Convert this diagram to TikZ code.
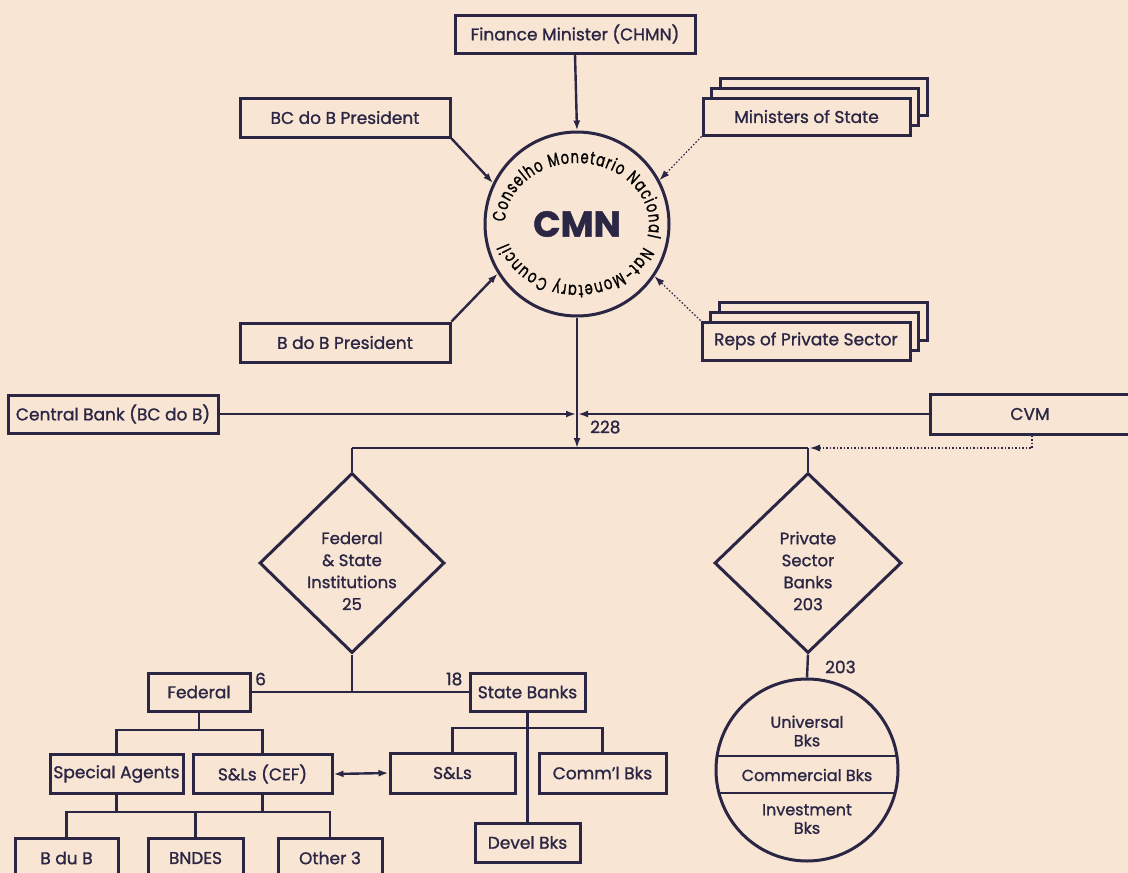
\documentclass[tikz,border=0pt]{standalone}
\usepackage{fontspec}
\setmainfont{Poppins}[FakeBold=1.2]
\newfontfamily\arcfam{Poppins}[FakeBold=1.2, FakeStretch=0.72]
\usetikzlibrary{arrows.meta,shapes.geometric,decorations.text}
\definecolor{bg}{RGB}{249,229,211}
\definecolor{ink}{RGB}{42,38,68}
\newcommand{\bxfont}{\fontsize{17}{19}\selectfont}
\newcommand{\dfont}{\fontsize{16.5}{22}\selectfont}
\newcommand{\cfont}{\fontsize{16}{18.5}\selectfont}
\newcommand{\arcfont}{\arcfam\fontsize{18}{18}\selectfont}
\begin{document}
\begin{tikzpicture}[x=1pt,y=1pt,
  every node/.style={text=ink, font=\bxfont},
  box/.style={draw=ink, line width=3pt, fill=bg, rectangle, inner sep=0pt, align=center},
  back/.style={draw=ink, line width=3pt, fill=bg},
  conn/.style={draw=ink, line width=2.4pt},
  arr/.style={conn, -{Latex[length=10pt,width=7pt]}},
  dblarr/.style={conn, {Latex[length=10pt,width=7pt]}-{Latex[length=10pt,width=7pt]}},
  dotarr/.style={draw=ink, line width=1.2pt, dash pattern=on 1.5pt off 2pt, -{Latex[length=10pt,width=7pt]}},
  dia/.style={draw=ink, line width=3pt, fill=bg, diamond, inner sep=0pt},
  circ/.style={draw=ink, line width=3pt, fill=bg, circle, inner sep=0pt},
  dtext/.style={font=\dfont, align=center},
  ctext/.style={font=\cfont, align=center},
  lbl/.style={anchor=west, inner sep=0pt}]
\fill[bg] (0,0) rectangle (1128,-873);
\useasboundingbox (0,0) rectangle (1128,-873);
\clip (0,0) rectangle (1128,-873);

% top
\node[box, minimum width=240, minimum height=38] (fin) at (575,-34) {Finance Minister (CHMN)};
\node[box, minimum width=210, minimum height=39] (bcp) at (345,-117.5) {BC do B President};
\node[box, minimum width=210, minimum height=39] (bbp) at (345,-342.5) {B do B President};

\draw[back] (720,-78) rectangle (927,-115);
\draw[back] (711.5,-88) rectangle (918.5,-125);
\node[box, minimum width=207, minimum height=37] (mos) at (806.5,-116.5) {Ministers of State};

\draw[back] (719,-302) rectangle (927,-340);
\draw[back] (710.5,-312) rectangle (918.5,-350);
\node[box, minimum width=208, minimum height=38] (rps) at (806,-341) {Reps of Private Sector};

\node[circ, minimum size=184] (cmn) at (577,-224) {};
\node[font=\fontsize{36}{36}\selectfont\bfseries] at (577,-224) {CMN};
\path[decorate, decoration={text along path, text align=fit to path,
  text={|\arcfont|Conselho Monetario Nacional}}]
  (577,-224) ++(178:72 and 61) arc[start angle=178, end angle=-12, x radius=72, y radius=61];
\path[decorate, decoration={text along path, text align=fit to path,
  text={|\arcfont|Nat-Monetary Council}}]
  (577,-224) ++(-22:72 and 61) arc[start angle=-22, end angle=-162, x radius=72, y radius=61];

\draw[arr] (fin.south) -- (cmn.north);
\draw[arr] (bcp.south east) -- (cmn.154);
\draw[arr] (bbp.north east) -- (cmn.212);
\draw[dotarr] (mos.south west) -- (cmn.28);
\draw[dotarr] (rps.north west) -- (cmn.-34);

% middle
\node[box, minimum width=210, minimum height=38] (cb) at (113,-414) {Central Bank (BC do B)};
\node[box, minimum width=200, minimum height=40] (cvm) at (1030,-414) {CVM};
\coordinate (cross) at (577,-414);
\coordinate (jc) at (577,-448);
\coordinate (jl) at (352,-448);
\coordinate (jr) at (808,-448);
\coordinate (cvmc) at (1032,-448);
\draw[arr, shorten >=1pt] (cb.east) -- (cross);
\draw[arr, shorten >=1pt] (cvm.west) -- (cross);
\draw[arr] (cmn.south) -- (jc);
\draw[conn] (jl) -- (jr);
\draw[dotarr, shorten >=2pt] (cvm.south -| cvmc) -- (cvmc) -- (jr);
\node[lbl] at (590,-427) {228};

% diamonds
\node[dia, minimum width=185, minimum height=180] (fsi) at (352,-563) {};
\node[dtext] at (352,-571) {Federal\\\& State\\Institutions\\25};
\node[dia, minimum width=187, minimum height=180] (psb) at (808,-563) {};
\node[dtext] at (808,-571) {Private\\Sector\\Banks\\203};
\draw[conn] (jl) -- (fsi.north);
\draw[conn] (jr) -- (psb.north);

% federal & state
\node[box, minimum width=102, minimum height=38] (fed) at (199,-692) {Federal};
\node[box, minimum width=115, minimum height=38] (stb) at (527.5,-692) {State Banks};
\coordinate (jf) at (352,-692);
\draw[conn] (fed.east) -- (stb.west);
\draw[conn] (fsi.south) -- (jf);
\node[lbl] at (255,-679) {6};
\node[lbl] at (446,-679) {18};

\node[box, minimum width=133, minimum height=39] (spa) at (116.5,-774) {Special Agents};
\node[box, minimum width=139, minimum height=39] (slc) at (262.5,-774) {S\&Ls (CEF)};
\coordinate (fj1) at (199,-730);
\draw[conn] (fed.south) -- (fj1);
\draw[conn] (spa.north) |- (fj1) -| (slc.north);

\node[box, minimum width=103, minimum height=40] (bdb) at (66.5,-858) {B du B};
\node[box, minimum width=95, minimum height=40] (bnd) at (195.5,-858) {BNDES};
\node[box, minimum width=104, minimum height=40] (oth) at (330,-858) {Other 3};
\coordinate (fj2) at (195.5,-812);
\draw[conn] (spa.south) -- (spa.south |- fj2);
\draw[conn] (slc.south) -- (slc.south |- fj2);
\draw[conn] (bdb.north) |- (fj2) -| (oth.north);
\draw[conn] (bnd.north) -- (fj2);

\node[box, minimum width=125, minimum height=40] (sls) at (452.5,-773) {S\&Ls};
\node[box, minimum width=127, minimum height=40] (com) at (602.5,-773) {Comm'l Bks};
\node[box, minimum width=105, minimum height=39] (dev) at (527.5,-842.5) {Devel Bks};
\coordinate (sj) at (527.5,-728);
\draw[conn] (stb.south) -- (dev.north);
\draw[conn] (sls.north) |- (sj) -| (com.north);
\draw[dblarr] (slc.east) -- (sls.west);

% private
\node[circ, minimum size=182] (pc) at (807,-770) {};
\draw[conn] (psb.south) -- (pc.north);
\node[lbl] at (825,-667) {203};
\begin{scope}
\clip (807,-770) circle (90);
\draw[conn] (700,-756) -- (920,-756);
\draw[conn] (700,-793) -- (920,-793);
\end{scope}
\node[ctext] at (807,-731) {Universal\\Bks};
\node[ctext] at (807,-775) {Commercial Bks};
\node[ctext] at (807,-819) {Investment\\Bks};
\end{tikzpicture}
\end{document}
